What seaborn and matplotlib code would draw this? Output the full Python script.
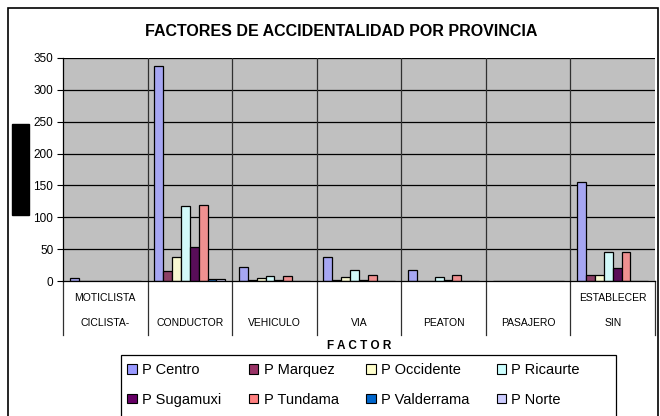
import numpy as np
import pandas as pd
import matplotlib
matplotlib.use("Agg")
import matplotlib.pyplot as plt
import matplotlib.transforms as mtransforms
from matplotlib.patches import Rectangle
import seaborn as sns

# data
factores = ["CICLISTA-MOTICLISTA", "CONDUCTOR", "VEHICULO", "VIA", "PEATON", "PASAJERO", "SIN ESTABLECER"]
linea_sup = ["MOTICLISTA", "", "", "", "", "", "ESTABLECER"]
linea_inf = ["CICLISTA-", "CONDUCTOR", "VEHICULO", "VIA", "PEATON", "PASAJERO", "SIN"]
provincias = ["P Centro", "P Marquez", "P Occidente", "P Ricaurte",
              "P Sugamuxi", "P Tundama", "P Valderrama", "P Norte"]

centro = [4, 338, 22, 37, 17, 0, 156]
marquez = [0, 16, 1, 2, 0, 0, 10]
occidente = [0, 37, 5, 6, 0, 0, 9]
ricaurte = [0, 117, 8, 17, 6, 0, 45]
sugamuxi = [0, 54, 2, 2, 2, 0, 21]
tundama = [0, 119, 8, 10, 10, 0, 45]
valderrama = [0, 3, 0, 0, 0, 0, 0]
norte = [0, 3, 0, 0, 0, 0, 0]

colores = ["#9999FF", "#993366", "#FFFFCC", "#CCFFFF",
           "#660066", "#FF8080", "#0066CC", "#CCCCFF"]
yticks = [0, 50, 100, 150, 200, 250, 300, 350]

series = [centro, marquez, occidente, ricaurte, sugamuxi, tundama, valderrama, norte]
df = pd.DataFrame([
    {"factor": f, "provincia": p, "n": v}
    for p, vals in zip(provincias, series)
    for f, v in zip(factores, vals)
])

plt.rcParams['font.family'] = ['Liberation Sans', 'DejaVu Sans']

fig = plt.figure(figsize=(6.6, 4.16), dpi=100)
ax = fig.add_axes([63 / 660, 1 - 281 / 416, 592 / 660, 223 / 416])

sns.barplot(data=df, x="factor", y="n", hue="provincia", order=factores,
            hue_order=provincias, palette=colores, width=0.84, gap=0,
            edgecolor="black", linewidth=0.9, ax=ax)
ax.get_legend().remove()

ax.set_facecolor("#C0C0C0")
ax.set_ylim(0, 350)
ax.set_xlim(-0.5, len(factores) - 0.5)
ax.set_yticks(yticks)
ax.set_yticklabels([str(t) for t in yticks], fontsize=8.5)
ax.tick_params(axis="y", length=4, width=0.8, pad=3)
ax.set_xticks([])
ax.set_xlabel("")
ax.set_ylabel("")
ax.set_axisbelow(True)
for y in yticks[1:]:
    ax.axhline(y, color="black", lw=0.9, zorder=0.5)
for i in range(1, len(factores)):
    ax.axvline(i - 0.5, color="#303030", lw=0.9, zorder=0.5)
for s in ["top", "right"]:
    ax.spines[s].set_visible(False)
ax.spines["left"].set_linewidth(0.9)
ax.spines["bottom"].set_linewidth(0.9)

# category labels (two rows) and separators below the axis
trans = mtransforms.blended_transform_factory(ax.transData, ax.transAxes)
for i in range(len(factores)):
    ax.text(i, -0.078, linea_sup[i], transform=trans, ha="center", va="center", fontsize=7.5)
    ax.text(i, -0.19, linea_inf[i], transform=trans, ha="center", va="center", fontsize=7.5)
for i in range(len(factores) + 1):
    ax.plot([i - 0.5, i - 0.5], [0, -0.24], transform=trans, color="#303030",
            lw=0.9, clip_on=False)

fig.text(341 / 660, 1 - 31 / 416, "FACTORES DE ACCIDENTALIDAD POR PROVINCIA",
         ha="center", va="center", fontsize=11.5, fontweight="bold")
fig.text(359 / 660, 1 - 346 / 416, "F A C T O R", ha="center", va="center",
         fontsize=8.5, fontweight="bold")

# outer chart frame, legend frame and the blacked-out y label
fig.patches.append(Rectangle((8 / 660, -0.05), 650 / 660, 1.05 - 8 / 416,
                             transform=fig.transFigure, fill=False,
                             edgecolor="black", lw=1.2))
fig.patches.append(Rectangle((121 / 660, -0.05), 495 / 660, 1.05 - 355 / 416,
                             transform=fig.transFigure, fill=False,
                             edgecolor="black", lw=0.9))
fig.patches.append(Rectangle((12 / 660, 1 - 215 / 416), 17 / 660, 91 / 416,
                             transform=fig.transFigure, color="black"))

# legend filled row by row, like the original
ncol = 4
orden = [r * ncol + c for c in range(ncol) for r in range(2)]
handles = [Rectangle((0, 0), 1, 1, facecolor=c, edgecolor="black", lw=0.8) for c in colores]
leg = fig.legend([handles[k] for k in orden], [provincias[k] for k in orden],
                 ncol=ncol, loc="upper left",
                 bbox_to_anchor=(123 / 660, 1 - 359 / 416),
                 fontsize=10.5, frameon=False,
                 handlelength=0.65, handleheight=0.65, handletextpad=0.35,
                 columnspacing=1.9, labelspacing=1.05, borderpad=0.3,
                 borderaxespad=0)

fig.savefig("out.png", dpi=100)
